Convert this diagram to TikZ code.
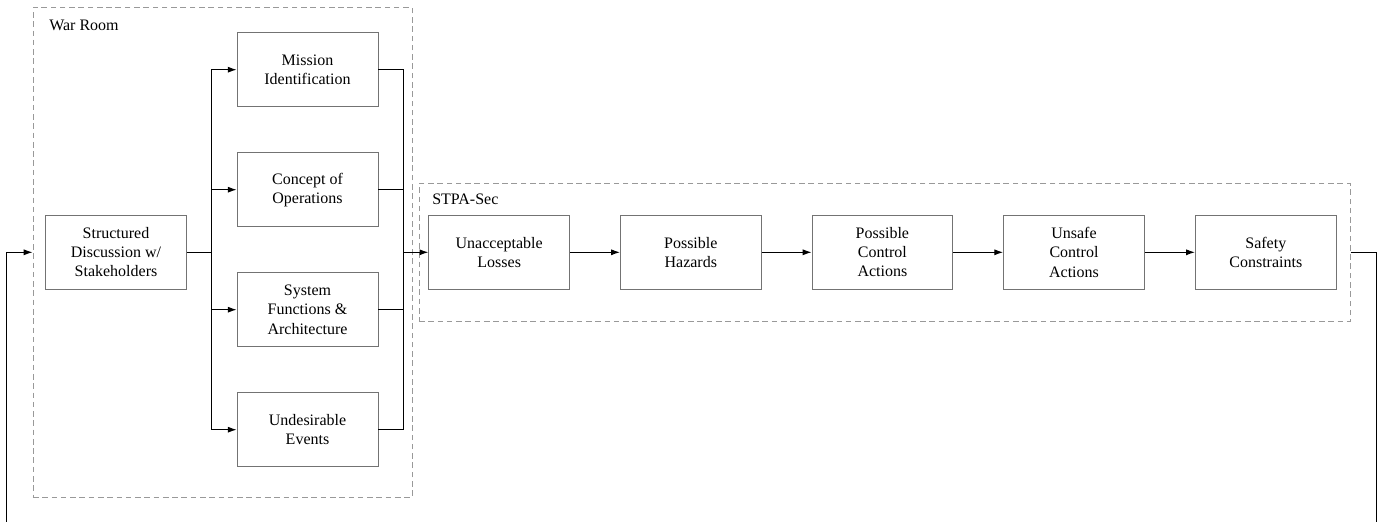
\documentclass[tikz,border=0pt]{standalone}
\usepackage{fontspec}
\setmainfont{Liberation Serif}
\newfontfamily\tms{Liberation Serif}
\usetikzlibrary{arrows.meta}
\definecolor{boxgray}{gray}{0.45}
\definecolor{dashgray}{gray}{0.6}
\begin{document}
\begin{tikzpicture}[x=0.625pt,y=-0.625pt,
  box/.style={draw=boxgray, line width=0.5pt, minimum width=88.1pt, minimum height=46.25pt,
    inner sep=0pt, align=center, font=\tms\fontsize{10}{12}\selectfont},
  group/.style={draw=dashgray, line width=0.6pt, dash pattern=on 3.5pt off 2.3pt, inner sep=0pt},
  lbl/.style={anchor=base west, inner sep=0pt, font=\tms\fontsize{10}{12}\selectfont},
  line/.style={line width=0.6pt},
  conn/.style={line width=0.6pt, -{Latex[length=5.5pt,width=3.8pt]}}]
\useasboundingbox (0,0) rectangle (1380,522);
% groups
\node[group, minimum width=236.9pt, minimum height=306.25pt] (war) at (222.5,252.3) {};
\node[group, minimum width=581.9pt, minimum height=86.5pt] (stpa) at (884.5,252.5) {};
\node[lbl] (warlbl) at (49,31) {War Room};
\node[lbl] (stpalbl) at (432,204.3) {STPA-Sec};
% war room boxes
\node[box] (sd) at (116,252.3) {Structured\\Discussion w/\\Stakeholders};
\node[box] (mi) at (307.5,69.7) {Mission\\Identification};
\node[box] (co) at (307.5,189.7) {Concept of\\Operations};
\node[box] (sf) at (307.5,309.7) {System\\Functions \&\\Architecture};
\node[box] (ue) at (307.5,429.7) {Undesirable\\Events};
% stpa boxes
\node[box] (ul) at (499.2,252.3) {Unacceptable\\Losses};
\node[box] (ph) at (690.8,252.3) {Possible\\Hazards};
\node[box] (pc) at (882.4,252.3) {Possible\\Control\\Actions};
\node[box] (uc) at (1074,252.3) {Unsafe\\Control\\Actions};
\node[box] (sc) at (1265.8,252.3) {Safety\\Constraints};
% split
\coordinate (split) at (211.7,252.3);
\draw[line] (sd.east) -- (split);
\draw[conn] (split) |- (mi.west);
\draw[conn] (split) |- (co.west);
\draw[conn] (split) |- (sf.west);
\draw[conn] (split) |- (ue.west);
% join
\coordinate (join) at (403.3,252.3);
\draw[line] (mi.east) -| (join);
\draw[line] (co.east) -| (join);
\draw[line] (sf.east) -| (join);
\draw[line] (ue.east) -| (join);
\draw[conn] (join) -- (ul.west);
% chain
\draw[conn] (ul) -- (ph);
\draw[conn] (ph) -- (pc);
\draw[conn] (pc) -- (uc);
\draw[conn] (uc) -- (sc);
% feedback
\coordinate (fbR) at (1376,535);
\coordinate (fbL) at (6.7,535);
\draw[conn] (stpa.east) -| (fbR) -- (fbL) |- (war.west);
\end{tikzpicture}
\end{document}
